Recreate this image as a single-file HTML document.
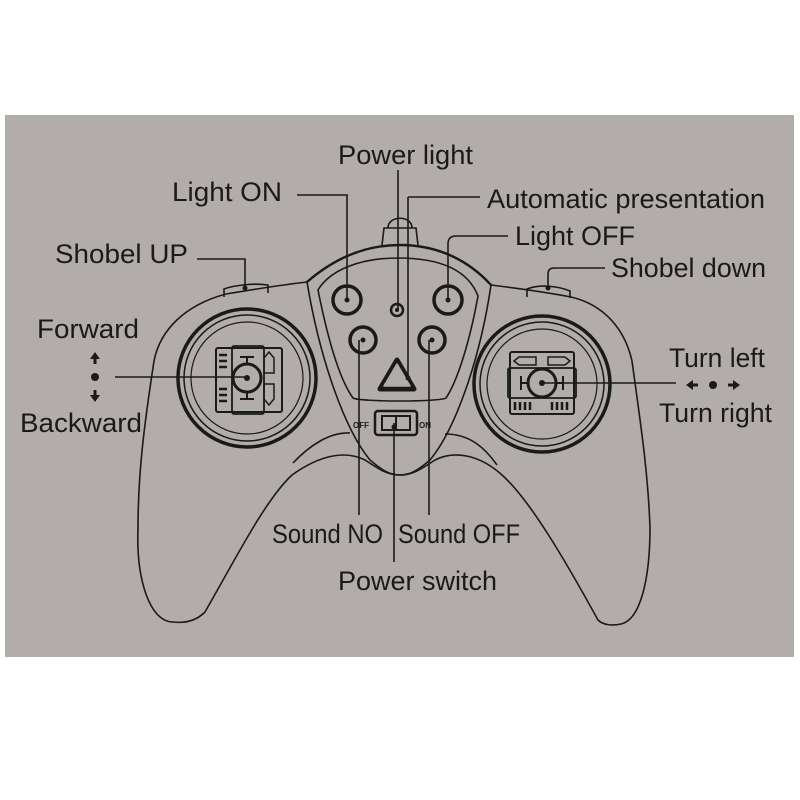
<!DOCTYPE html>
<html><head><meta charset="utf-8"><style>
html,body{margin:0;padding:0;background:#fff;}
svg{display:block}
text{font-family:"Liberation Sans",sans-serif;font-size:27px;fill:#1a1a1a}
</style></head><body>
<svg width="800" height="800" viewBox="0 0 800 800" xmlns="http://www.w3.org/2000/svg">
<rect x="0" y="0" width="800" height="800" fill="#fff"/>
<rect x="5" y="115" width="789" height="542" fill="#b2acaa"/>
<g fill="none" stroke="#1a1a1a" stroke-width="1.6">
<path d="M307,282 C280,285 250,290 226,294 C185,305 160,330 154,361 C145,420 138,470 138,528 C136,580 150,622 173,622 C190,624 200,617 205,612 C235,560 265,500 292,475 C320,455 345,450 365,460 C380,470 388,475 400,475 C412,475 420,470 435,460 C455,450 480,455 502,475 C530,500 565,560 598,620 C603,625 612,626 621,624 C640,620 650,580 650,528 C648,470 640,420 632,361 C625,330 605,305 571,297 C545,292 515,288 491,285"/>
<path d="M307,282 C330,262 360,245 400,245 C440,245 470,262 491,285" stroke-width="2.4"/>
<path d="M382,245 L384,228 L416,228 L418,245"/>
<path d="M388,228 C388,215 412,215 412,228"/>
<path d="M307,282 C320,360 345,430 370,460 C385,473 392,475 400,475 C408,475 415,473 430,460 C455,430 480,360 491,285"/>
<path d="M318,290 C330,270 360,258 398,258 C440,258 468,270 478,296 C470,340 458,380 446,398 C440,402 360,402 353,398 C340,380 328,340 318,290 Z"/>
<path d="M293,463 C310,445 330,432 350,433"/>
<path d="M445,434 C470,434 485,448 497,465"/>
<path d="M224,297 L224,289 C235,285 255,283 268,285 L268,293"/>
<path d="M527,297 L527,289 C540,284 558,286 570,291 L570,298"/>
</g>
<g fill="none" stroke="#1a1a1a">
<circle cx="347" cy="300" r="14" stroke-width="3.5"/>
<circle cx="448" cy="300" r="14" stroke-width="3.5"/>
<circle cx="363" cy="340" r="13" stroke-width="3.5"/>
<circle cx="432" cy="340" r="13" stroke-width="3.5"/>
<circle cx="397" cy="310" r="6" stroke-width="2.5"/>
<path d="M397,360 L414,389 L380,389 Z" stroke-width="5" stroke-linejoin="round"/>
<path d="M397,364 L410,386 L384,386 Z" stroke="#b2acaa" stroke-width="1.5" stroke-linejoin="round"/>
<rect x="375" y="411" width="42" height="24" rx="3" stroke-width="2.5"/>
<rect x="382" y="416" width="28" height="14" stroke-width="2"/>
<line x1="396" y1="416" x2="396" y2="430" stroke-width="2"/>
<circle cx="247" cy="378" r="69" stroke-width="3.5"/>
<circle cx="247" cy="378" r="63" stroke-width="1.5"/>
<circle cx="247" cy="378" r="56" stroke-width="1.2"/>
<rect x="216" y="348" width="66" height="64" rx="2" stroke-width="2"/>
<rect x="232" y="346" width="32" height="68" rx="2" stroke-width="1.8"/>
<circle cx="247" cy="378" r="14" stroke-width="3"/>
<line x1="240" y1="357" x2="254" y2="357" stroke-width="2"/><line x1="247" y1="357" x2="247" y2="364" stroke-width="2"/>
<line x1="240" y1="399" x2="254" y2="399" stroke-width="2"/><line x1="247" y1="392" x2="247" y2="399" stroke-width="2"/>
<path d="M269,352 L274,358 L274,373 L264,373 L264,358 Z M264,384 L274,384 L274,399 L269,405 L264,399 Z" stroke-width="1.5"/>
<path d="M219,355 h8 M219,361 h8 M219,367 h8 M219,389 h8 M219,395 h8 M219,401 h8" stroke-width="2.5"/>
<circle cx="542" cy="384" r="68" stroke-width="3.5"/>
<circle cx="542" cy="384" r="62" stroke-width="1.5"/>
<circle cx="542" cy="384" r="55" stroke-width="1.2"/>
<rect x="510" y="352" width="64" height="62" rx="2" stroke-width="2"/>
<rect x="508" y="368" width="68" height="30" rx="2" stroke-width="1.8"/>
<path d="M514,361 L519,357 L536,357 L536,365 L519,365 Z M548,357 L565,357 L570,361 L565,365 L548,365 Z" stroke-width="1.5"/>
<circle cx="542" cy="383" r="14" stroke-width="3"/>
<line x1="521" y1="376" x2="521" y2="390" stroke-width="2"/><line x1="521" y1="383" x2="528" y2="383" stroke-width="2"/>
<line x1="563" y1="376" x2="563" y2="390" stroke-width="2"/><line x1="556" y1="383" x2="563" y2="383" stroke-width="2"/>
<path d="M515,402 v8 M520,402 v8 M525,402 v8 M530,402 v8 M552,402 v8 M557,402 v8 M562,402 v8 M567,402 v8" stroke-width="2.5"/>
</g>
<g fill="none" stroke="#1a1a1a" stroke-width="1.6">
<path d="M297,195 H347 V300"/>
<path d="M398,170 V310"/>
<path d="M408,197 H480 M408,197 V378"/>
<path d="M448,300 V244 Q448,236 456,236 H508"/>
<path d="M197,259 H245 V288"/>
<path d="M548,288 V274 Q548,268 554,268 H605"/>
<path d="M115,377 H247"/>
<path d="M542,383 H676"/>
<path d="M359,340 V515"/>
<path d="M429,340 V515"/>
<path d="M394,423 V562"/>
</g>
<g fill="#1a1a1a">
<circle cx="347" cy="300" r="2.5"/><circle cx="448" cy="300" r="2.5"/>
<circle cx="363" cy="340" r="2.5"/><circle cx="432" cy="340" r="2.5"/>
<circle cx="397" cy="310" r="2"/><circle cx="408" cy="378" r="2.5"/>
<circle cx="247" cy="378" r="3"/><circle cx="542" cy="383" r="3"/>
<circle cx="245" cy="288" r="2.5"/><circle cx="548" cy="288" r="2.5"/>
<circle cx="394" cy="427" r="2.5"/>
<circle cx="95" cy="377" r="4"/>
<path d="M95,352 L100,359 L96.5,359 L96.5,364 L93.5,364 L93.5,359 L90,359 Z"/>
<path d="M95,402 L100,395 L96.5,395 L96.5,390 L93.5,390 L93.5,395 L90,395 Z"/>
<circle cx="713" cy="385" r="4"/>
<path d="M686,385 L693,380 L693,383.5 L698,383.5 L698,386.5 L693,386.5 L693,390 Z"/>
<path d="M740,385 L733,380 L733,383.5 L728,383.5 L728,386.5 L733,386.5 L733,390 Z"/>
</g>
<text x="338" y="164" textLength="135" lengthAdjust="spacingAndGlyphs">Power light</text>
<text x="172" y="201" textLength="110" lengthAdjust="spacingAndGlyphs">Light ON</text>
<text x="487" y="208" textLength="278" lengthAdjust="spacingAndGlyphs">Automatic presentation</text>
<text x="515" y="245" textLength="120" lengthAdjust="spacingAndGlyphs">Light OFF</text>
<text x="55" y="263" textLength="133" lengthAdjust="spacingAndGlyphs">Shobel UP</text>
<text x="611" y="277" textLength="155" lengthAdjust="spacingAndGlyphs">Shobel down</text>
<text x="37" y="338" textLength="102" lengthAdjust="spacingAndGlyphs">Forward</text>
<text x="20" y="432" textLength="122" lengthAdjust="spacingAndGlyphs">Backward</text>
<text x="669" y="367" textLength="96" lengthAdjust="spacingAndGlyphs">Turn left</text>
<text x="659" y="422" textLength="113" lengthAdjust="spacingAndGlyphs">Turn right</text>
<text x="272" y="543" textLength="111" lengthAdjust="spacingAndGlyphs">Sound NO</text>
<text x="398" y="543" textLength="122" lengthAdjust="spacingAndGlyphs">Sound OFF</text>
<text x="338" y="590" textLength="159" lengthAdjust="spacingAndGlyphs">Power switch</text>
<text x="353" y="428" style="font-size:8px;font-weight:bold">OFF</text>
<text x="419" y="428" style="font-size:8px;font-weight:bold">ON</text>
</svg>
</body></html>
